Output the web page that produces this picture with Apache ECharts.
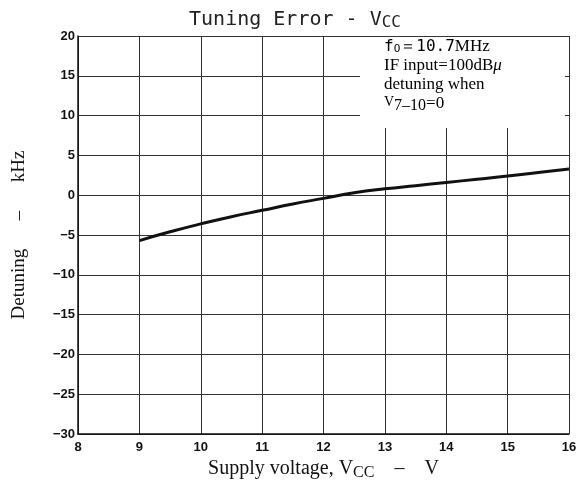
<!DOCTYPE html>
<html>
<head>
<meta charset="utf-8">
<script src="https://cdn.jsdelivr.net/npm/echarts@6/dist/echarts.min.js"></script>
<style>
html, body { margin: 0; padding: 0; background: #fff; }
#chart { width: 577px; height: 481px; }
</style>
</head>
<body>
<div id="chart"></div>
<script>
// supply voltage (V) and detuning (kHz)
var vcc = [9, 9.5, 10, 10.5, 11, 11.5, 12, 12.5, 13, 13.5, 14, 14.5, 15, 15.5, 16];
var detune = [-5.7, -4.6, -3.6, -2.7, -1.9, -1.1, -0.4, 0.3, 0.8, 1.2, 1.6, 2.0, 2.4, 2.85, 3.3];
var xTicks = [8, 9, 10, 11, 12, 13, 14, 15, 16];
var yTicks = [-30, -25, -20, -15, -10, -5, 0, 5, 10, 15, 20];

var mychart = echarts.init(document.getElementById('chart'));

var points = vcc.map(function (v, i) { return [v, detune[i]]; });
var tickFont = { fontFamily: 'Liberation Sans', fontWeight: 'bold', fontSize: 13, color: '#111' };

var option = {
    animation: false,
    backgroundColor: '#fff',
    title: {
        text: '{a|Tuning Error - V}{s|CC}',
        left: 290,
        textAlign: 'center',
        top: 4,
        textStyle: {
            rich: {
                a: { fontFamily: 'DejaVu Sans Mono', fontWeight: 'normal', fontSize: 20, color: '#222' },
                s: { fontFamily: 'DejaVu Sans Mono', fontWeight: 'normal', fontSize: 16, color: '#222', padding: [6, 0, 0, 0] }
            }
        }
    },
    grid: { left: 78, right: 8, top: 36, bottom: 47, outerBoundsMode: 'none' },
    xAxis: {
        type: 'value',
        min: 8, max: 16, interval: 1,
        name: '{a|Supply voltage, V}{s|CC}{a|    –    V}',
        nameLocation: 'middle',
        nameGap: 8,
        nameTextStyle: {
            rich: {
                a: { fontFamily: 'Liberation Serif', fontSize: 20, color: '#111' },
                s: { fontFamily: 'Liberation Serif', fontSize: 16, color: '#111', padding: [8, 0, 0, 0] }
            }
        },
        axisLine: { onZero: false, lineStyle: { color: '#111', width: 1.5 } },
        axisTick: { show: false },
        axisLabel: Object.assign({ margin: 7 }, tickFont),
        splitLine: { show: true, lineStyle: { color: '#333', width: 1 } }
    },
    yAxis: {
        type: 'value',
        min: -30, max: 20, interval: 5,
        name: 'Detuning      –      kHz',
        nameLocation: 'middle',
        nameGap: 49,
        nameTextStyle: { fontFamily: 'Liberation Serif', fontSize: 19, color: '#111' },
        axisLine: { show: true, onZero: false, lineStyle: { color: '#111', width: 1.5 } },
        axisTick: { show: false },
        axisLabel: Object.assign({ margin: 3, formatter: function (v) { return v < 0 ? '−' + (-v) : String(v); } }, tickFont),
        splitLine: { show: true, lineStyle: { color: '#333', width: 1 } }
    },
    graphic: [
        {
            // white panel behind the note, hides the grid there
            type: 'rect', left: 360, top: 37, z: 10,
            shape: { width: 205, height: 91 },
            style: { fill: '#fff' }
        },
        {
            type: 'text', left: 384, top: 38, z: 11,
            style: {
                text: '{m|f}{sub|O}{m|＝10.7}{r|MHz}\n{r|IF input=100dB}{i|μ}\n{r|detuning when}\n{sup|V}{sub2|7–10}{r|=0}',
                rich: {
                    m: { fontFamily: 'DejaVu Sans Mono', fontSize: 16, color: '#111', lineHeight: 19 },
                    sub: { fontFamily: 'DejaVu Sans Mono', fontSize: 11, color: '#111', padding: [6, 0, 0, 0] },
                    r: { fontFamily: 'Liberation Serif', fontSize: 17, color: '#111', lineHeight: 19 },
                    i: { fontFamily: 'Liberation Serif', fontStyle: 'italic', fontSize: 17, color: '#111' },
                    sup: { fontFamily: 'Liberation Serif', fontSize: 14, color: '#111', padding: [0, 0, 4, 0] },
                    sub2: { fontFamily: 'Liberation Serif', fontSize: 16, color: '#111', padding: [4, 0, 0, 0] }
                }
            }
        }
    ],
    series: [{
        type: 'line',
        data: points,
        smooth: true,
        showSymbol: false,
        lineStyle: { color: '#111', width: 3 }
    }]
};

mychart.setOption(option);
</script>
</body>
</html>
